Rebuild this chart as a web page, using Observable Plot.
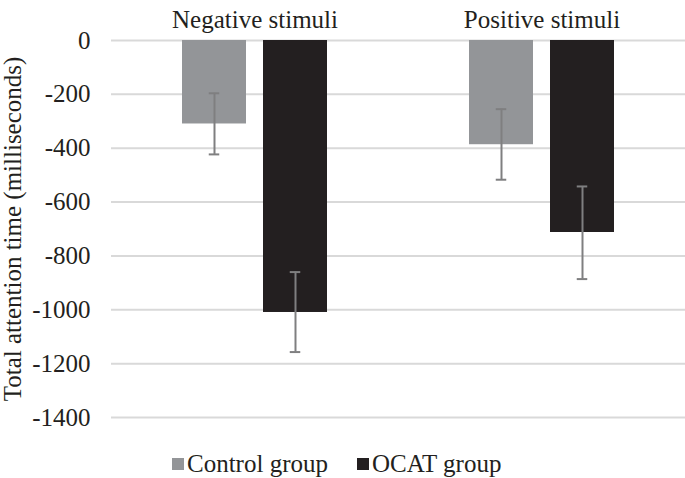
<!DOCTYPE html>
<html><head><meta charset="utf-8">
<script src="https://cdn.jsdelivr.net/npm/d3@7"></script>
<script src="https://cdn.jsdelivr.net/npm/@observablehq/plot@0.6"></script>
<style>
body{margin:0;background:#fff;font-family:"Liberation Serif","Times New Roman",serif;}
#wrap{position:relative;width:685px;height:478px;}
#legend{position:absolute;left:172px;top:449px;display:flex;align-items:center;font-size:25px;color:#231f20;line-height:30px;font-family:"Liberation Serif","Times New Roman",serif;}
.sw{width:12px;height:12px;display:inline-block;margin-right:3px;}
.item{display:flex;align-items:center;margin-right:29px;}
</style>
</head><body><div id="wrap"><div id="chart"></div><div id="legend"></div></div>
<script>
const stimuli = ["Negative stimuli", "Positive stimuli"];
const groups = ["Control group", "OCAT group"];
const colors = ["#939598", "#231f20"];
const controlMean = [-310, -387];
const ocatMean = [-1010, -713];
const controlLow = [-423, -517];
const controlHigh = [-196, -255];
const ocatLow = [-1157, -886];
const ocatHigh = [-860, -542];
const yTicks = [0, -200, -400, -600, -800, -1000, -1200, -1400];

const rows = [];
stimuli.forEach((s, i) => {
  rows.push({stim: s, group: groups[0], mean: controlMean[i], lo: controlLow[i], hi: controlHigh[i]});
  rows.push({stim: s, group: groups[1], mean: ocatMean[i], lo: ocatLow[i], hi: ocatHigh[i]});
});

const chart = Plot.plot({
  width: 685,
  height: 430,
  marginLeft: 110,
  marginRight: 0,
  marginTop: 40,
  marginBottom: 13,
  style: {fontFamily: "'Liberation Serif', 'Times New Roman', serif", fontSize: "25px", color: "#231f20", background: "#fff"},
  fx: {domain: stimuli, padding: 0, axis: "top", label: null, tickSize: 0, tickPadding: 13},
  x: {domain: groups, axis: null, paddingInner: 0.21, paddingOuter: 0.87},
  y: {domain: [-1400, 0], ticks: yTicks, tickSize: 0, tickPadding: 21, tickFormat: d => String(d),
      label: "Total attention time (milliseconds)", labelAnchor: "center", labelArrow: "none", labelOffset: 108},
  color: {domain: groups, range: colors},
  marks: [
    Plot.gridY(yTicks, {stroke: "#d9d9d9", strokeOpacity: 1, strokeWidth: 2}),
    Plot.barY(rows, {fx: "stim", x: "group", y: "mean", fill: "group"}),
    Plot.ruleX(rows, {fx: "stim", x: "group", y1: "lo", y2: "hi", stroke: "#7f7f80", strokeWidth: 2}),
    Plot.tickY(rows, {fx: "stim", x: "group", y: "lo", stroke: "#7f7f80", strokeWidth: 2, insetLeft: 26.75, insetRight: 26.75}),
    Plot.tickY(rows, {fx: "stim", x: "group", y: "hi", stroke: "#7f7f80", strokeWidth: 2, insetLeft: 26.75, insetRight: 26.75})
  ]
});
document.getElementById("chart").appendChild(chart);

const leg = document.getElementById("legend");
groups.forEach((g, i) => {
  const it = document.createElement("div");
  it.className = "item";
  const sw = document.createElement("span");
  sw.className = "sw";
  sw.style.background = colors[i];
  const t = document.createElement("span");
  t.textContent = g;
  it.appendChild(sw); it.appendChild(t);
  leg.appendChild(it);
});
</script></body></html>
